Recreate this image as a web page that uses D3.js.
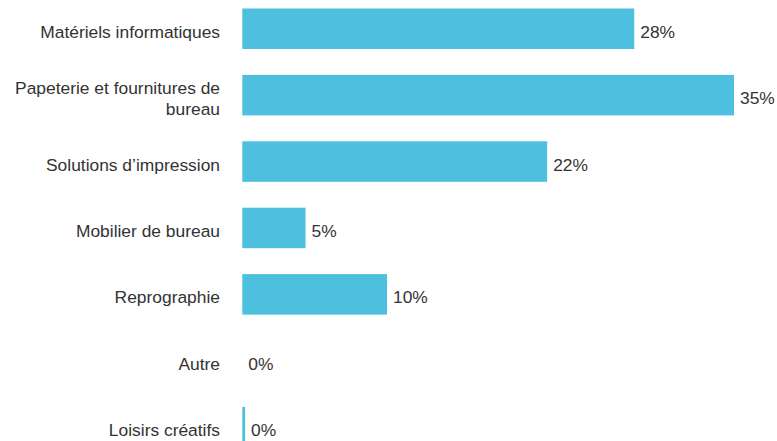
<!DOCTYPE html>
<html><head><meta charset="utf-8">
<script src="https://cdn.jsdelivr.net/npm/d3@7"></script>
<style>
html,body{margin:0;padding:0;background:#fff;overflow:hidden;}
svg{display:block;}
text{font-family:"Liberation Sans",Arial,sans-serif;}
</style></head>
<body>
<script>
const categories = ["Matériels informatiques","Papeterie et fournitures de bureau","Solutions d’impression","Mobilier de bureau","Reprographie","Autre","Loisirs créatifs"];
const values = [27.9, 35.0, 21.7, 4.5, 10.3, 0, 0.2];

const W = 777, H = 441;
const svg = d3.select("body").append("svg").attr("width", W).attr("height", H);

const x0 = 242.3;
const x = d3.scaleLinear().domain([0, 35]).range([x0, 734]);
const step = 66.4;
const r0 = -4.45;
const y = d3.scaleBand().domain(categories).range([r0, r0 + step * categories.length])
  .paddingInner(0.39).paddingOuter(0.195);

const fs = 17.4;

svg.selectAll("rect.bar").data(categories).enter().append("rect")
  .attr("class","bar")
  .attr("x", x(0))
  .attr("y", d => y(d))
  .attr("width", (d,i) => x(values[i]) - x(0))
  .attr("height", y.bandwidth())
  .attr("fill", "#4dc0df");

svg.selectAll("text.val").data(categories).enter().append("text")
  .attr("class","val")
  .attr("x", (d,i) => x(values[i]) + 6)
  .attr("y", d => y(d) + y.bandwidth()/2 + 3)
  .attr("dy", "0.35em")
  .attr("font-size", fs)
  .attr("fill", "#333")
  .text((d,i) => d3.format(".0f")(values[i]) + "%");

const labels = svg.selectAll("text.cat").data(categories).enter().append("text")
  .attr("class","cat")
  .attr("x", 220)
  .attr("y", d => y(d) + y.bandwidth()/2 + 3)
  .attr("text-anchor","end")
  .attr("font-size", fs)
  .attr("fill", "#333");

const maxW = 215, lh = 21;
labels.each(function(d){
  const t = d3.select(this);
  const words = d.split(" ");
  let lines = [], line = [];
  const tmp = t.append("tspan");
  words.forEach(w => {
    line.push(w);
    tmp.text(line.join(" "));
    if (tmp.node().getComputedTextLength() > maxW && line.length > 1) {
      line.pop(); lines.push(line.join(" ")); line = [w];
    }
  });
  lines.push(line.join(" "));
  tmp.remove();
  const off = -(lines.length - 1) * lh / 2;
  lines.forEach((l, i) => {
    t.append("tspan").attr("x", 220).attr("dy", i === 0 ? (off + 0.35*fs) : lh).text(l);
  });
});
</script>
</body></html>
